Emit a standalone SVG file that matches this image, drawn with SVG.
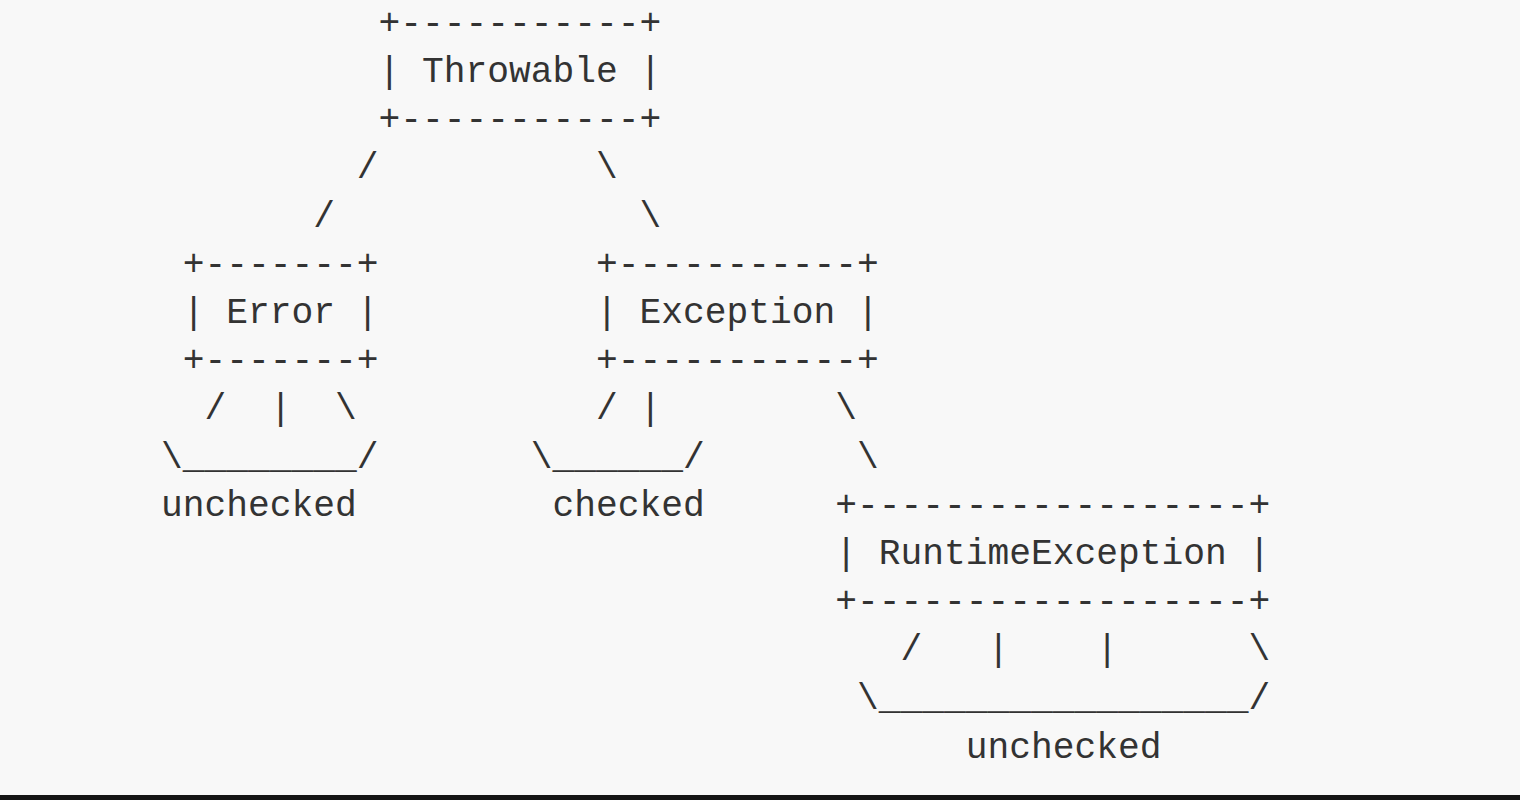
<svg xmlns="http://www.w3.org/2000/svg" width="1520" height="800" viewBox="0 0 1520 800">
<style>
text{font-family:"Liberation Mono","DejaVu Sans Mono",monospace;font-size:36.25px;fill:#333;white-space:pre}
</style>
<rect x="0" y="0" width="1520" height="800" fill="#f8f8f8"/>
<rect x="0" y="795" width="1520" height="5" fill="#151515"/>
<g id="throwable">
<text x="378.5" y="33.8">+-----------+</text>
<text x="378.5" y="82">| Throwable |</text>
<text x="378.5" y="130.2">+-----------+</text>
</g>
<g id="error">
<text x="182.75" y="274.8">+-------+</text>
<text x="182.75" y="323">| Error |</text>
<text x="182.75" y="371.2">+-------+</text>
</g>
<g id="exception">
<text x="596" y="274.8">+-----------+</text>
<text x="596" y="323">| Exception |</text>
<text x="596" y="371.2">+-----------+</text>
</g>
<g id="runtimeexception">
<text x="835.25" y="515.8">+------------------+</text>
<text x="835.25" y="564">| RuntimeException |</text>
<text x="835.25" y="612.2">+------------------+</text>
</g>
<g id="labels">
<text x="161" y="515.8">unchecked</text>
<text x="552.5" y="515.8">checked</text>
<text x="965.75" y="757.8">unchecked</text>
</g>
<g id="connectors">
<text x="356.75" y="178.4">/</text>
<text x="596" y="178.4">\</text>
<text x="313.25" y="226.6">/</text>
<text x="639.5" y="226.6">\</text>
<text x="204.5" y="419.4">/</text>
<text x="269.75" y="419.4">|</text>
<text x="335" y="419.4">\</text>
<text x="596" y="419.4">/</text>
<text x="639.5" y="419.4">|</text>
<text x="835.25" y="419.4">\</text>
<text x="161" y="467.6">\________/</text>
<text x="530.75" y="467.6">\______/</text>
<text x="857" y="467.6">\</text>
<text x="900.5" y="660.4">/</text>
<text x="987.5" y="660.4">|</text>
<text x="1096.25" y="660.4">|</text>
<text x="1248.5" y="660.4">\</text>
<text x="857" y="708.6">\_________________/</text>
</g>
</svg>
